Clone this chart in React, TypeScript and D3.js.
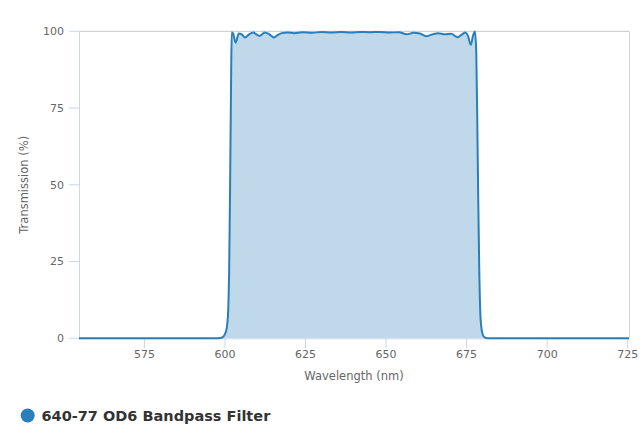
import React from 'react';
import * as d3 from 'd3';

// Spectrum (wavelength nm, transmission %)
const wavelengths = [
  554.7, 570, 590, 597, 598.5, 599.3, 599.8, 600.3, 600.7, 601.0, 601.3, 601.6, 601.9, 602.1,
  602.5, 603.3, 604.3, 605.3, 606.2, 607.5, 608.8, 609.8, 610.7, 611.5, 612.4, 613.8, 615.2,
  616.4, 617.6, 619.5, 621.5, 624, 627, 630, 633, 636, 639, 642, 645, 648, 651, 654,
  656.4, 658.5, 660.5, 662.6, 664.4, 666.2, 668.2, 670.2, 672.2, 673.6, 674.6, 675.4, 676.3,
  677.0, 677.6, 678.0, 678.3, 678.6, 678.9, 679.3, 679.7, 680.1, 680.6, 681.5, 690, 710, 725.4,
];
const transmission = [
  0, 0, 0, 0, 0.1, 0.4, 1.0, 2.2, 4.5, 9, 22, 50, 84, 99.6,
  99.4, 96.3, 99.3, 98.9, 98.0, 99.0, 99.6, 99.0, 98.5, 99.0, 99.6, 99.0, 98.0,
  98.8, 99.4, 99.6, 99.4, 99.7, 99.5, 99.8, 99.6, 99.8, 99.6, 99.8, 99.7, 99.8, 99.6, 99.7,
  99.0, 99.5, 99.3, 98.4, 99.0, 99.4, 99.0, 99.2, 98.1, 99.0, 99.6, 98.6, 95.6,
  98.6, 99.9, 93, 72, 46, 24, 7, 2.6, 1.0, 0.3, 0, 0, 0, 0,
];
const xTicks = [575, 600, 625, 650, 675, 700, 725];
const yTicks = [0, 25, 50, 75, 100];
const seriesName = '640-77 OD6 Bandpass Filter';

const W = 640;
const H = 446;
const left = 79;
const right = 629;
const top = 31.3;
const bottom = 338.3;

const lineColor = '#2a7fba';
const font = '"DejaVu Sans", Verdana, sans-serif';

export default function App() {
  const x = d3.scaleLinear().domain([554.7, 725.4]).range([left, right]);
  const y = d3.scaleLinear().domain([0, 100]).range([bottom, top]);

  const points = wavelengths.map((w, i) => [w, transmission[i]] as [number, number]);

  const line = d3.line<[number, number]>()
    .x(d => x(d[0]))
    .y(d => y(d[1]))
    .curve(d3.curveMonotoneX);

  const area = d3.area<[number, number]>()
    .x(d => x(d[0]))
    .y0(y(0))
    .y1(d => y(d[1]))
    .curve(d3.curveMonotoneX);

  return (
    <div style={{ position: 'absolute', left: 0, top: 0 }}>
      <svg width={W} height={H} style={{ display: 'block', background: '#fff' }}>
        {/* frame */}
        <line x1={left} x2={right} y1={top} y2={top} stroke="#c6c6c6" strokeWidth={1} />
        <line x1={right + 0.5} x2={right + 0.5} y1={top} y2={bottom} stroke="#d6d6d6" strokeWidth={1} />

        <path d={area(points) || ''} fill="rgba(42,127,186,0.3)" />

        {/* y axis */}
        <line x1={left + 0.5} x2={left + 0.5} y1={top} y2={bottom + 1} stroke="#ccd6eb" />
        {yTicks.map(t => (
          <g key={t} transform={`translate(0,${y(t)})`}>
            <line x1={69} x2={left} y1={0} y2={0} stroke="#ccd6eb" />
            <text x={64} dy="0.35em" textAnchor="end" fontFamily={font} fontSize={11} fill="#666">
              {t}
            </text>
          </g>
        ))}
        <text
          transform={`translate(24,${(top + bottom) / 2}) rotate(-90)`}
          textAnchor="middle"
          dy="0.35em"
          fontFamily={font}
          fontSize={11.5}
          fill="#666"
        >
          Transmission (%)
        </text>

        {/* x axis */}
        <line x1={left} x2={right} y1={bottom + 0.5} y2={bottom + 0.5} stroke="#ccd6eb" />
        {xTicks.map(t => (
          <g key={t} transform={`translate(${x(t)},0)`}>
            <line x1={0} x2={0} y1={bottom} y2={bottom + 10} stroke="#ccd6eb" />
            <text y={358} textAnchor="middle" fontFamily={font} fontSize={11} fill="#666">
              {t}
            </text>
          </g>
        ))}
        <text x={(left + right) / 2} y={380} textAnchor="middle" fontFamily={font} fontSize={11.5} fill="#666">
          Wavelength (nm)
        </text>

        <path d={line(points) || ''} fill="none" stroke={lineColor} strokeWidth={2} strokeLinejoin="round" />

        {/* legend */}
        <circle cx={27.7} cy={415.5} r={7} fill={lineColor} />
        <text x={41.5} y={421} fontFamily={font} fontWeight="bold" fontSize={14.5} fill="#333">
          {seriesName}
        </text>
      </svg>
    </div>
  );
}
